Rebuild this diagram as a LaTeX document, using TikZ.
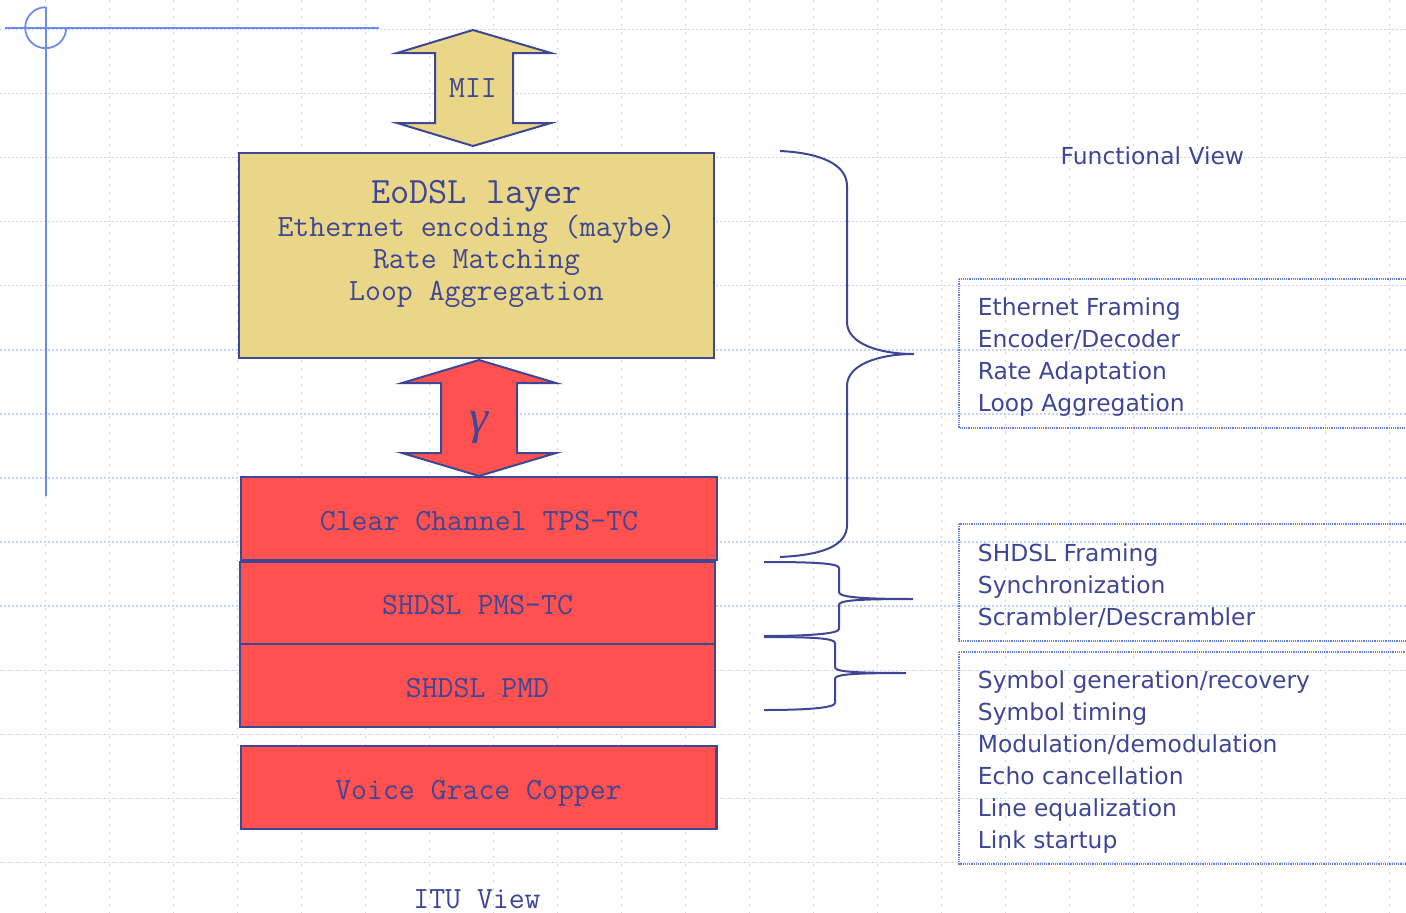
\documentclass[tikz,border=0pt]{standalone}
\usepackage{fontspec}
\setmainfont{DejaVu Sans}
\newfontfamily\timesf{Liberation Serif}
\definecolor{gridc}{RGB}{196,210,250}
\definecolor{crossc}{RGB}{110,140,235}
\definecolor{dk}{RGB}{62,70,150}
\definecolor{yel}{RGB}{234,214,135}
\definecolor{redf}{RGB}{255,82,80}
\definecolor{dotc}{RGB}{95,125,235}
\tikzset{
  gridv/.style={draw=gridc, line width=1.5pt, dash pattern=on 2pt off 6pt},
  gridh/.style={draw=gridc, line width=1.5pt, dash pattern=on 2pt off 2pt},
  cross/.style={draw=crossc, line width=1.8pt},
  layerbox/.style={draw=dk, line width=2.4pt, inner sep=0pt, outer sep=0pt},
  ylw/.style={layerbox, fill=yel},
  rd/.style={layerbox, fill=redf},
  arr/.style={draw=dk, line width=2pt, line join=miter},
  brace/.style={draw=dk, line width=2pt},
  mono/.style={text=dk, font=\ttfamily\fontsize{30.9}{34}\selectfont, inner sep=0pt, anchor=base},
  bigmono/.style={text=dk, font=\ttfamily\fontsize{37.2}{40}\selectfont, inner sep=0pt, anchor=base},
  sans/.style={text=dk, font=\fontsize{23.4}{28}\selectfont, inner sep=0pt, anchor=base west},
  dotbox/.style={draw=dotc, line width=1.2pt, dash pattern=on 1.2pt off 1pt},
}
\begin{document}
\begin{tikzpicture}[x=1pt, y=-1pt]
\useasboundingbox (0,0) rectangle (1406,913);
\clip (0,0) rectangle (1406,913);
% grid
\foreach \k in {0,...,21} \draw[gridv] ({45.7+64*\k},0) -- ({45.7+64*\k},913);
\foreach \k in {0,...,13} \draw[gridh] (0,{29.3+64.1*\k}) -- (1406,{29.3+64.1*\k});
% crosshair
\draw[cross] (4.7,27.7) -- (379.3,27.7);
\draw[cross] (45.7,7.2) -- (45.7,496);
\draw[cross] (45.7,7.2) arc[start angle=270, end angle=0, radius=20.5];
% MII arrow
\draw[arr, fill=yel] (473,30) -- (551,53) -- (513,53) -- (513,123) -- (551,123) -- (473,146)
  -- (397,123) -- (435,123) -- (435,53) -- (397,53) -- cycle;
\node[mono] (mii) at (473,97.3) {MII};
% EoDSL layer
\node[ylw, minimum width=475pt, minimum height=205pt] (eodsl) at (476.5,255.5) {};
\node[bigmono] (eo1) at (476.5,203.3) {EoDSL layer};
\node[mono] (eo2) at (476.5,236) {Ethernet encoding (maybe)};
\node[mono] (eo3) at (476.5,268.3) {Rate Matching};
\node[mono] (eo4) at (476.5,300) {Loop Aggregation};
% gamma arrow
\draw[arr, fill=redf] (479,360) -- (556,383) -- (517,383) -- (517,453) -- (556,453) -- (479,476)
  -- (402,453) -- (441,453) -- (441,383) -- (402,383) -- cycle;
\node[text=dk, inner sep=0pt] (gam) at (479,428) {\timesf\itshape\fontsize{48}{52}\selectfont γ};
% red layers
\node[rd, minimum width=476pt, minimum height=83pt] (cc) at (479,518.5) {};
\node[mono] (cct) at (479,530.3) {Clear Channel TPS-TC};
\node[rd, minimum width=475pt, minimum height=82pt] (pms) at (477.5,603) {};
\node[mono] (pmst) at (477.5,614.8) {SHDSL PMS-TC};
\node[rd, minimum width=475pt, minimum height=83pt] (pmd) at (477.5,685.5) {};
\node[mono] (pmdt) at (477.5,697.3) {SHDSL PMD};
\node[rd, minimum width=475.5pt, minimum height=83pt] (vgc) at (478.8,787.5) {};
\node[mono] (vgct) at (478.5,799.3) {Voice Grace Copper};
\node[mono] (itu) at (477,908) {ITU View};
% braces
\draw[brace] (780,151) .. controls (822,153) and (847,165) .. (847,186) -- (847,322)
  .. controls (847,344) and (880,354) .. (914,354)
  .. controls (880,354) and (847,364) .. (847,386) -- (847,525)
  .. controls (847,546) and (822,555) .. (780,557);
\draw[brace] (764,562) .. controls (810,562) and (839,563) .. (839,568) -- (839,592)
  .. controls (839,596) and (850,599) .. (913,599)
  .. controls (850,599) and (839,601) .. (839,605) -- (839,629)
  .. controls (839,634) and (805,636) .. (764,636);
\draw[brace] (764,637) .. controls (810,637) and (835,638) .. (835,643) -- (835,667)
  .. controls (835,671) and (845,673) .. (906,673)
  .. controls (845,673) and (835,675) .. (835,679) -- (835,703)
  .. controls (835,708) and (805,710) .. (764,710);
% functional view
\node[sans] (fv) at (1060.5,164.3) {Functional View};
\draw[dotbox] (959,279) rectangle (1412,428);
\draw[dotbox] (959,524) rectangle (1412,641);
\draw[dotbox] (959,652) rectangle (1412,864);
\foreach \t [count=\i] in {Ethernet Framing, Encoder/Decoder, Rate Adaptation, Loop Aggregation}
  \node[sans] (fa\i) at (977.7,{315.7+32*(\i-1)}) {\t};
\foreach \t [count=\i] in {SHDSL Framing, Synchronization, Scrambler/Descrambler}
  \node[sans] (fb\i) at (977.7,{561+32*(\i-1)}) {\t};
\foreach \t [count=\i] in {Symbol generation/recovery, Symbol timing, Modulation/demodulation, Echo cancellation, Line equalization, Link startup}
  \node[sans] (fc\i) at (977.7,{688+32*(\i-1)}) {\t};
\end{tikzpicture}
\end{document}
